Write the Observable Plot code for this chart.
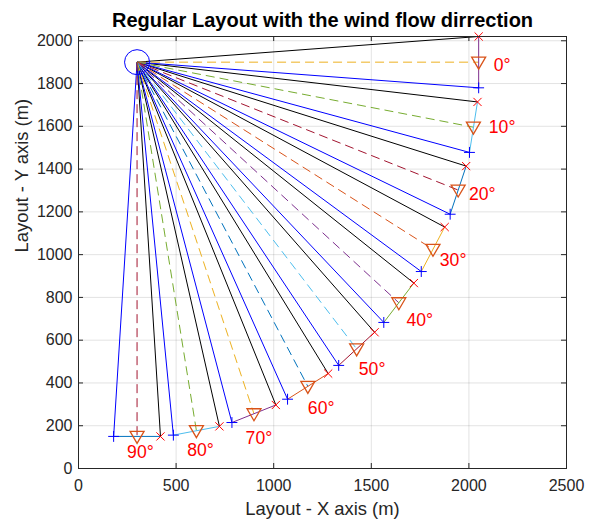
<!DOCTYPE html>
<html><head><meta charset="utf-8">
<script src="https://cdn.jsdelivr.net/npm/d3@7"></script>
<script src="https://cdn.jsdelivr.net/npm/@observablehq/plot@0.6"></script>
<style>
body{margin:0;background:#fff;}
#chart svg{font-family:"Liberation Sans",Arial,Helvetica,sans-serif;}
</style>
</head><body><div id="chart"></div>
<script>
// ---- data ----
const angles = [0, 10, 20, 30, 40, 50, 60, 70, 80, 90];
const origin = [300, 1900];
const triX   = [2050, 2023, 1945, 1816, 1641, 1425, 1175, 899, 604, 300];
const triY   = [1900, 1596, 1302, 1025, 775, 559, 384, 256, 177, 150];
const crossX = [2050, 2044, 1986, 1876, 1718, 1517, 1279, 1011, 722, 420];
const crossY = [2020, 1714, 1414, 1129, 867, 637, 444, 297, 197, 150];
const plusX  = [2050, 2003, 1904, 1756, 1564, 1333, 1071, 786, 486, 180];
const plusY  = [1780, 1478, 1189, 921, 683, 482, 324, 215, 156, 150];
const labelX = [2127, 2102, 2000, 1851, 1680, 1436, 1175, 856, 557, 249];
const labelY = [1883, 1597, 1280, 974, 692, 462, 280, 139, 83, 76];
const xTicks = [0, 500, 1000, 1500, 2000, 2500];
const yTicks = [0, 200, 400, 600, 800, 1000, 1200, 1400, 1600, 1800, 2000];
const segColors  = ["#7E2F8E","#4DBEEE","#0072BD","#EDB120","#77AC30","#A2142F","#D95319","#7E2F8E","#4DBEEE","#0072BD"];
const dashColors = ["#EDB120","#77AC30","#A2142F","#D95319","#7E2F8E","#4DBEEE","#0072BD","#EDB120","#77AC30","#A2142F"];
const title = "Regular Layout with the wind flow dirrection";
const xLabel = "Layout - X axis (m)";
const yLabel = "Layout - Y axis (m)";

// ---- build table ----
const rows = angles.map((a, i) => ({
  angle: a, ox: origin[0], oy: origin[1],
  tx: triX[i], ty: triY[i], cx: crossX[i], cy: crossY[i],
  px: plusX[i], py: plusY[i], lx: labelX[i], ly: labelY[i],
  seg: segColors[i], dash: dashColors[i]
}));

const W = 593, H = 521, mL = 78, mR = 27, mT = 36, mB = 53;
const fw = W - mL - mR, fh = H - mT - mB;
const axisColor = "#262626";
const triDown = {draw(ctx) { ctx.moveTo(-7, -5); ctx.lineTo(7, -5); ctx.lineTo(0, 7); ctx.closePath(); }};

const chart = Plot.plot({
  width: W, height: H,
  marginLeft: mL, marginRight: mR, marginTop: mT, marginBottom: mB,
  x: {domain: [0, 2500]},
  y: {domain: [0, 2020]},
  style: {fontFamily: '"Liberation Sans", Arial, sans-serif', background: "#fff"},
  marks: [
    Plot.gridX(xTicks, {stroke: axisColor, strokeOpacity: 0.13}),
    Plot.gridY(yTicks, {stroke: axisColor, strokeOpacity: 0.13}),
    Plot.link(rows, {x1: "ox", y1: "oy", x2: "cx", y2: "cy", stroke: "#000000", strokeWidth: 1}),
    Plot.link(rows, {x1: "ox", y1: "oy", x2: "px", y2: "py", stroke: "#0000FF", strokeWidth: 1}),
    Plot.link(rows, {x1: "ox", y1: "oy", x2: "tx", y2: "ty", stroke: d => d.dash, strokeWidth: 1, strokeDasharray: "9,5"}),
    Plot.link(rows, {x1: "cx", y1: "cy", x2: "px", y2: "py", stroke: d => d.seg, strokeWidth: 1}),
    Plot.dot(rows, {x: "tx", y: "ty", symbol: triDown, stroke: "#D95319", fill: "none", strokeWidth: 1.3}),
    Plot.dot(rows, {x: "cx", y: "cy", symbol: "times", r: 3.8, stroke: "#FF0000", strokeWidth: 1}),
    Plot.dot(rows, {x: "px", y: "py", symbol: "plus", r: 3.6, stroke: "#0000FF", strokeWidth: 1}),
    Plot.dot([origin], {x: d => d[0], y: d => d[1], r: 12.5, stroke: "#0000FF", fill: "none", strokeWidth: 1}),
    Plot.text(rows, {x: "lx", y: "ly", text: d => d.angle + "°", textAnchor: "start", lineAnchor: "middle", fill: "#FF0000", fontSize: 17.6}),
    Plot.frame({stroke: axisColor, strokeWidth: 1}),
    Plot.tickX(xTicks, {x: d => d, insetTop: fh - 5, stroke: axisColor}),
    Plot.tickX(xTicks, {x: d => d, insetBottom: fh - 5, stroke: axisColor}),
    Plot.tickY(yTicks, {y: d => d, insetRight: fw - 5, stroke: axisColor}),
    Plot.tickY(yTicks, {y: d => d, insetLeft: fw - 5, stroke: axisColor}),
    Plot.axisX(xTicks, {tickSize: 0, tickPadding: 11, fontSize: 16, fill: axisColor, label: null, tickFormat: d => String(d)}),
    Plot.axisY(yTicks, {tickSize: 0, tickPadding: 6, fontSize: 16, fill: axisColor, label: null, tickFormat: d => String(d)}),
    Plot.text([xLabel], {frameAnchor: "bottom", dy: 41, lineAnchor: "middle", fontSize: 18.4, fill: axisColor}),
    Plot.text([yLabel], {frameAnchor: "left", dx: -56, rotate: -90, lineAnchor: "middle", fontSize: 18.4, fill: axisColor}),
    Plot.text([title], {frameAnchor: "top", dy: -16, lineAnchor: "middle", fontSize: 20, fontWeight: "bold", fill: "#000"})
  ]
});
document.getElementById("chart").appendChild(chart);
</script>
</body></html>
